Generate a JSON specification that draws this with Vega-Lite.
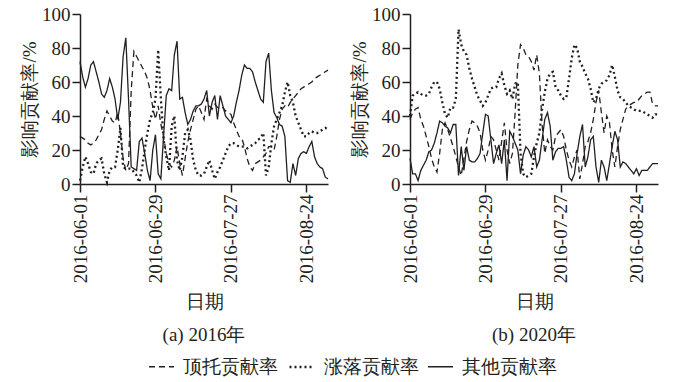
{
  "$schema": "https://vega.github.io/schema/vega-lite/v6.json",
  "autosize": {"type": "pad"},
  "padding": {"left": 20, "top": 5, "right": 5, "bottom": 5},
  "background": "white",
  "config": {
    "font": "Liberation Serif",
    "view": {"stroke": null},
    "style": {
      "guide-label": {"font": "Liberation Serif", "fontSize": 19, "fill": "#231f20"},
      "guide-title": {"font": "Liberation Serif", "fontSize": 19, "fill": "#231f20", "fontWeight": "normal"}
    },
    "axis": {
      "labelFont": "Liberation Serif",
      "titleFont": "Liberation Serif",
      "labelFontSize": 19,
      "titleFontSize": 19,
      "titleFontWeight": "normal",
      "labelColor": "#231f20",
      "titleColor": "#231f20",
      "domainColor": "#231f20",
      "tickColor": "#231f20",
      "domainWidth": 1.5,
      "tickWidth": 1.5,
      "tickSize": 8,
      "grid": false
    },
    "legend": {
      "labelFont": "Liberation Serif",
      "labelFontSize": 19,
      "labelColor": "#231f20",
      "symbolType": "stroke",
      "symbolSize": 625,
      "symbolStrokeColor": "#231f20",
      "columnPadding": 6,
      "labelOffset": 8
    },
    "title": {"font": "Liberation Serif", "fontSize": 19, "fontWeight": "normal", "color": "#231f20"}
  },
  "datasets": {
    "y2016": [
      {"d":"2016-06-01","顶托贡献率":28,"涨落贡献率":2,"其他贡献率":72},
      {"d":"2016-06-02","顶托贡献率":27,"涨落贡献率":10,"其他贡献率":63},
      {"d":"2016-06-03","顶托贡献率":26,"涨落贡献率":16,"其他贡献率":57},
      {"d":"2016-06-04","顶托贡献率":24,"涨落贡献率":12,"其他贡献率":62},
      {"d":"2016-06-05","顶托贡献率":23,"涨落贡献率":7,"其他贡献率":70},
      {"d":"2016-06-06","顶托贡献率":24,"涨落贡献率":6,"其他贡献率":72},
      {"d":"2016-06-07","顶托贡献率":26,"涨落贡献率":12,"其他贡献率":66},
      {"d":"2016-06-08","顶托贡献率":29,"涨落贡献率":14,"其他贡献率":60},
      {"d":"2016-06-09","顶托贡献率":32,"涨落贡献率":15,"其他贡献率":53},
      {"d":"2016-06-10","顶托贡献率":38,"涨落贡献率":6,"其他贡献率":51},
      {"d":"2016-06-11","顶托贡献率":43,"涨落贡献率":1,"其他贡献率":55},
      {"d":"2016-06-12","顶托贡献率":40,"涨落贡献率":8,"其他贡献率":62},
      {"d":"2016-06-13","顶托贡献率":37,"涨落贡献率":10,"其他贡献率":57},
      {"d":"2016-06-14","顶托贡献率":36,"涨落贡献率":10,"其他贡献率":50},
      {"d":"2016-06-15","顶托贡献率":42,"涨落贡献率":20,"其他贡献率":38},
      {"d":"2016-06-16","顶托贡献率":30,"涨落贡献率":33,"其他贡献率":48},
      {"d":"2016-06-17","顶托贡献率":15,"涨落贡献率":10,"其他贡献率":75},
      {"d":"2016-06-18","顶托贡献率":8,"涨落贡献率":9,"其他贡献率":86},
      {"d":"2016-06-19","顶托贡献率":12,"涨落贡献率":9,"其他贡献率":50},
      {"d":"2016-06-20","顶托贡献率":55,"涨落贡献率":9,"其他贡献率":10},
      {"d":"2016-06-21","顶托贡献率":78,"涨落贡献率":7,"其他贡献率":9},
      {"d":"2016-06-22","顶托贡献率":75,"涨落贡献率":5,"其他贡献率":8},
      {"d":"2016-06-23","顶托贡献率":72,"涨落贡献率":1,"其他贡献率":25},
      {"d":"2016-06-24","顶托贡献率":69,"涨落贡献率":9,"其他贡献率":27},
      {"d":"2016-06-25","顶托贡献率":66,"涨落贡献率":20,"其他贡献率":18},
      {"d":"2016-06-26","顶托贡献率":62,"涨落贡献率":30,"其他贡献率":8},
      {"d":"2016-06-27","顶托贡献率":55,"涨落贡献率":38,"其他贡献率":2},
      {"d":"2016-06-28","顶托贡献率":45,"涨落贡献率":42,"其他贡献率":20},
      {"d":"2016-06-29","顶托贡献率":38,"涨落贡献率":50,"其他贡献率":29},
      {"d":"2016-06-30","顶托贡献率":46,"涨落贡献率":79,"其他贡献率":6},
      {"d":"2016-07-01","顶托贡献率":35,"涨落贡献率":50,"其他贡献率":3},
      {"d":"2016-07-02","顶托贡献率":28,"涨落贡献率":26,"其他贡献率":28},
      {"d":"2016-07-03","顶托贡献率":18,"涨落贡献率":16,"其他贡献率":52},
      {"d":"2016-07-04","顶托贡献率":12,"涨落贡献率":8,"其他贡献率":56},
      {"d":"2016-07-05","顶托贡献率":10,"涨落贡献率":34,"其他贡献率":55},
      {"d":"2016-07-06","顶托贡献率":14,"涨落贡献率":40,"其他贡献率":76},
      {"d":"2016-07-07","顶托贡献率":22,"涨落贡献率":14,"其他贡献率":84},
      {"d":"2016-07-08","顶托贡献率":12,"涨落贡献率":8,"其他贡献率":50},
      {"d":"2016-07-09","顶托贡献率":5,"涨落贡献率":16,"其他贡献率":51},
      {"d":"2016-07-10","顶托贡献率":15,"涨落贡献率":30,"其他贡献率":42},
      {"d":"2016-07-11","顶托贡献率":25,"涨落贡献率":32,"其他贡献率":35},
      {"d":"2016-07-12","顶托贡献率":32,"涨落贡献率":26,"其他贡献率":38},
      {"d":"2016-07-13","顶托贡献率":38,"涨落贡献率":14,"其他贡献率":43},
      {"d":"2016-07-14","顶托贡献率":44,"涨落贡献率":8,"其他贡献率":46},
      {"d":"2016-07-15","顶托贡献率":46,"涨落贡献率":5,"其他贡献率":46},
      {"d":"2016-07-16","顶托贡献率":42,"涨落贡献率":5,"其他贡献率":47},
      {"d":"2016-07-17","顶托贡献率":38,"涨落贡献率":6,"其他贡献率":50},
      {"d":"2016-07-18","顶托贡献率":50,"涨落贡献率":10,"其他贡献率":55},
      {"d":"2016-07-19","顶托贡献率":46,"涨落贡献率":14,"其他贡献率":40},
      {"d":"2016-07-20","顶托贡献率":44,"涨落贡献率":8,"其他贡献率":48},
      {"d":"2016-07-21","顶托贡献率":47,"涨落贡献率":3,"其他贡献率":52},
      {"d":"2016-07-22","顶托贡献率":45,"涨落贡献率":7,"其他贡献率":38},
      {"d":"2016-07-23","顶托贡献率":44,"涨落贡献率":10,"其他贡献率":52},
      {"d":"2016-07-24","顶托贡献率":45,"涨落贡献率":14,"其他贡献率":46},
      {"d":"2016-07-25","顶托贡献率":43,"涨落贡献率":18,"其他贡献率":40},
      {"d":"2016-07-26","顶托贡献率":42,"涨落贡献率":22,"其他贡献率":38},
      {"d":"2016-07-27","顶托贡献率":41,"涨落贡献率":24,"其他贡献率":36},
      {"d":"2016-07-28","顶托贡献率":36,"涨落贡献率":24,"其他贡献率":40},
      {"d":"2016-07-29","顶托贡献率":32,"涨落贡献率":23,"其他贡献率":48},
      {"d":"2016-07-30","顶托贡献率":28,"涨落贡献率":22,"其他贡献率":55},
      {"d":"2016-07-31","顶托贡献率":27,"涨落贡献率":22,"其他贡献率":64},
      {"d":"2016-08-01","顶托贡献率":22,"涨落贡献率":22,"其他贡献率":70},
      {"d":"2016-08-02","顶托贡献率":15,"涨落贡献率":21,"其他贡献率":68},
      {"d":"2016-08-03","顶托贡献率":10,"涨落贡献率":22,"其他贡献率":68},
      {"d":"2016-08-04","顶托贡献率":8,"涨落贡献率":23,"其他贡献率":66},
      {"d":"2016-08-05","顶托贡献率":12,"涨落贡献率":24,"其他贡献率":60},
      {"d":"2016-08-06","顶托贡献率":13,"涨落贡献率":26,"其他贡献率":55},
      {"d":"2016-08-07","顶托贡献率":14,"涨落贡献率":27,"其他贡献率":50},
      {"d":"2016-08-08","顶托贡献率":16,"涨落贡献率":30,"其他贡献率":48},
      {"d":"2016-08-09","顶托贡献率":18,"涨落贡献率":5,"其他贡献率":72},
      {"d":"2016-08-10","顶托贡献率":22,"涨落贡献率":10,"其他贡献率":77},
      {"d":"2016-08-11","顶托贡献率":22,"涨落贡献率":24,"其他贡献率":55},
      {"d":"2016-08-12","顶托贡献率":20,"涨落贡献率":34,"其他贡献率":42},
      {"d":"2016-08-13","顶托贡献率":28,"涨落贡献率":38,"其他贡献率":39},
      {"d":"2016-08-14","顶托贡献率":38,"涨落贡献率":42,"其他贡献率":35},
      {"d":"2016-08-15","顶托贡献率":44,"涨落贡献率":46,"其他贡献率":34},
      {"d":"2016-08-16","顶托贡献率":46,"涨落贡献率":54,"其他贡献率":28},
      {"d":"2016-08-17","顶托贡献率":45,"涨落贡献率":60,"其他贡献率":2},
      {"d":"2016-08-18","顶托贡献率":48,"涨落贡献率":52,"其他贡献率":1},
      {"d":"2016-08-19","顶托贡献率":50,"涨落贡献率":48,"其他贡献率":12},
      {"d":"2016-08-20","顶托贡献率":52,"涨落贡献率":40,"其他贡献率":5},
      {"d":"2016-08-21","顶托贡献率":54,"涨落贡献率":36,"其他贡献率":15},
      {"d":"2016-08-22","顶托贡献率":56,"涨落贡献率":32,"其他贡献率":18},
      {"d":"2016-08-23","顶托贡献率":57,"涨落贡献率":28,"其他贡献率":19},
      {"d":"2016-08-24","顶托贡献率":58,"涨落贡献率":28,"其他贡献率":18},
      {"d":"2016-08-25","顶托贡献率":59,"涨落贡献率":30,"其他贡献率":22},
      {"d":"2016-08-26","顶托贡献率":60,"涨落贡献率":31,"其他贡献率":25},
      {"d":"2016-08-27","顶托贡献率":62,"涨落贡献率":30,"其他贡献率":16},
      {"d":"2016-08-28","顶托贡献率":63,"涨落贡献率":30,"其他贡献率":12},
      {"d":"2016-08-29","顶托贡献率":64,"涨落贡献率":31,"其他贡献率":10},
      {"d":"2016-08-30","顶托贡献率":65,"涨落贡献率":32,"其他贡献率":9},
      {"d":"2016-08-31","顶托贡献率":66,"涨落贡献率":33,"其他贡献率":4},
      {"d":"2016-09-01","顶托贡献率":67,"涨落贡献率":32,"其他贡献率":3}
    ],
    "y2020": [
      {"d":"2016-06-01","顶托贡献率":38,"涨落贡献率":40,"其他贡献率":15},
      {"d":"2016-06-02","顶托贡献率":42,"涨落贡献率":52,"其他贡献率":6},
      {"d":"2016-06-03","顶托贡献率":44,"涨落贡献率":53,"其他贡献率":6},
      {"d":"2016-06-04","顶托贡献率":45,"涨落贡献率":54,"其他贡献率":2},
      {"d":"2016-06-05","顶托贡献率":38,"涨落贡献率":53,"其他贡献率":8},
      {"d":"2016-06-06","顶托贡献率":34,"涨落贡献率":52,"其他贡献率":11},
      {"d":"2016-06-07","顶托贡献率":28,"涨落贡献率":52,"其他贡献率":14},
      {"d":"2016-06-08","顶托贡献率":22,"涨落贡献率":53,"其他贡献率":19},
      {"d":"2016-06-09","顶托贡献率":15,"涨落贡献率":57,"其他贡献率":20},
      {"d":"2016-06-10","顶托贡献率":10,"涨落贡献率":60,"其他贡献率":24},
      {"d":"2016-06-11","顶托贡献率":7,"涨落贡献率":60,"其他贡献率":30},
      {"d":"2016-06-12","顶托贡献率":18,"涨落贡献率":56,"其他贡献率":37},
      {"d":"2016-06-13","顶托贡献率":32,"涨落贡献率":48,"其他贡献率":36},
      {"d":"2016-06-14","顶托贡献率":36,"涨落贡献率":41,"其他贡献率":34},
      {"d":"2016-06-15","顶托贡献率":32,"涨落贡献率":39,"其他贡献率":33},
      {"d":"2016-06-16","顶托贡献率":27,"涨落贡献率":45,"其他贡献率":30},
      {"d":"2016-06-17","顶托贡献率":22,"涨落贡献率":45,"其他贡献率":35},
      {"d":"2016-06-18","顶托贡献率":16,"涨落贡献率":50,"其他贡献率":35},
      {"d":"2016-06-19","顶托贡献率":10,"涨落贡献率":91,"其他贡献率":5},
      {"d":"2016-06-20","顶托贡献率":5,"涨落贡献率":82,"其他贡献率":22},
      {"d":"2016-06-21","顶托贡献率":15,"涨落贡献率":78,"其他贡献率":8},
      {"d":"2016-06-22","顶托贡献率":25,"涨落贡献率":76,"其他贡献率":22},
      {"d":"2016-06-23","顶托贡献率":32,"涨落贡献率":68,"其他贡献率":14},
      {"d":"2016-06-24","顶托贡献率":37,"涨落贡献率":62,"其他贡献率":13},
      {"d":"2016-06-25","顶托贡献率":36,"涨落贡献率":57,"其他贡献率":13},
      {"d":"2016-06-26","顶托贡献率":34,"涨落贡献率":52,"其他贡献率":15},
      {"d":"2016-06-27","顶托贡献率":30,"涨落贡献率":49,"其他贡献率":18},
      {"d":"2016-06-28","顶托贡献率":20,"涨落贡献率":46,"其他贡献率":30},
      {"d":"2016-06-29","顶托贡献率":14,"涨落贡献率":48,"其他贡献率":41},
      {"d":"2016-06-30","顶托贡献率":20,"涨落贡献率":52,"其他贡献率":40},
      {"d":"2016-07-01","顶托贡献率":28,"涨落贡献率":56,"其他贡献率":26},
      {"d":"2016-07-02","顶托贡献率":26,"涨落贡献率":57,"其他贡献率":12},
      {"d":"2016-07-03","顶托贡献率":20,"涨落贡献率":57,"其他贡献率":18},
      {"d":"2016-07-04","顶托贡献率":14,"涨落贡献率":62,"其他贡献率":23},
      {"d":"2016-07-05","顶托贡献率":25,"涨落贡献率":65,"其他贡献率":12},
      {"d":"2016-07-06","顶托贡献率":36,"涨落贡献率":58,"其他贡献率":26},
      {"d":"2016-07-07","顶托贡献率":20,"涨落贡献率":53,"其他贡献率":2},
      {"d":"2016-07-08","顶托贡献率":12,"涨落贡献率":55,"其他贡献率":31},
      {"d":"2016-07-09","顶托贡献率":18,"涨落贡献率":50,"其他贡献率":28},
      {"d":"2016-07-10","顶托贡献率":42,"涨落贡献率":59,"其他贡献率":24},
      {"d":"2016-07-11","顶托贡献率":70,"涨落贡献率":60,"其他贡献率":20},
      {"d":"2016-07-12","顶托贡献率":82,"涨落贡献率":18,"其他贡献率":6},
      {"d":"2016-07-13","顶托贡献率":80,"涨落贡献率":6,"其他贡献率":17},
      {"d":"2016-07-14","顶托贡献率":76,"涨落贡献率":4,"其他贡献率":22},
      {"d":"2016-07-15","顶托贡献率":75,"涨落贡献率":5,"其他贡献率":20},
      {"d":"2016-07-16","顶托贡献率":72,"涨落贡献率":6,"其他贡献率":16},
      {"d":"2016-07-17","顶托贡献率":67,"涨落贡献率":16,"其他贡献率":22},
      {"d":"2016-07-18","顶托贡献率":76,"涨落贡献率":24,"其他贡献率":10},
      {"d":"2016-07-19","顶托贡献率":65,"涨落贡献率":30,"其他贡献率":14},
      {"d":"2016-07-20","顶托贡献率":35,"涨落贡献率":44,"其他贡献率":26},
      {"d":"2016-07-21","顶托贡献率":18,"涨落贡献率":54,"其他贡献率":38},
      {"d":"2016-07-22","顶托贡献率":26,"涨落贡献率":62,"其他贡献率":42},
      {"d":"2016-07-23","顶托贡献率":22,"涨落贡献率":65,"其他贡献率":34},
      {"d":"2016-07-24","顶托贡献率":20,"涨落贡献率":66,"其他贡献率":14},
      {"d":"2016-07-25","顶托贡献率":28,"涨落贡献率":57,"其他贡献率":19},
      {"d":"2016-07-26","顶托贡献率":30,"涨落贡献率":55,"其他贡献率":21},
      {"d":"2016-07-27","顶托贡献率":32,"涨落贡献率":52,"其他贡献率":21},
      {"d":"2016-07-28","顶托贡献率":28,"涨落贡献率":50,"其他贡献率":22},
      {"d":"2016-07-29","顶托贡献率":20,"涨落贡献率":51,"其他贡献率":14},
      {"d":"2016-07-30","顶托贡献率":14,"涨落贡献率":62,"其他贡献率":4},
      {"d":"2016-07-31","顶托贡献率":10,"涨落贡献率":74,"其他贡献率":2},
      {"d":"2016-08-01","顶托贡献率":16,"涨落贡献率":82,"其他贡献率":6},
      {"d":"2016-08-02","顶托贡献率":20,"涨落贡献率":80,"其他贡献率":18},
      {"d":"2016-08-03","顶托贡献率":3,"涨落贡献率":72,"其他贡献率":28},
      {"d":"2016-08-04","顶托贡献率":12,"涨落贡献率":69,"其他贡献率":35},
      {"d":"2016-08-05","顶托贡献率":22,"涨落贡献率":65,"其他贡献率":10},
      {"d":"2016-08-06","顶托贡献率":25,"涨落贡献率":62,"其他贡献率":16},
      {"d":"2016-08-07","顶托贡献率":30,"涨落贡献率":56,"其他贡献率":26},
      {"d":"2016-08-08","顶托贡献率":38,"涨落贡献率":48,"其他贡献率":28},
      {"d":"2016-08-09","顶托贡献率":48,"涨落贡献率":50,"其他贡献率":10},
      {"d":"2016-08-10","顶托贡献率":55,"涨落贡献率":56,"其他贡献率":1},
      {"d":"2016-08-11","顶托贡献率":42,"涨落贡献率":59,"其他贡献率":14},
      {"d":"2016-08-12","顶托贡献率":30,"涨落贡献率":60,"其他贡献率":10},
      {"d":"2016-08-13","顶托贡献率":40,"涨落贡献率":61,"其他贡献率":2},
      {"d":"2016-08-14","顶托贡献率":36,"涨落贡献率":64,"其他贡献率":12},
      {"d":"2016-08-15","顶托贡献率":20,"涨落贡献率":70,"其他贡献率":22},
      {"d":"2016-08-16","顶托贡献率":10,"涨落贡献率":63,"其他贡献率":31},
      {"d":"2016-08-17","顶托贡献率":22,"涨落贡献率":55,"其他贡献率":26},
      {"d":"2016-08-18","顶托贡献率":32,"涨落贡献率":51,"其他贡献率":10},
      {"d":"2016-08-19","顶托贡献率":38,"涨落贡献率":50,"其他贡献率":13},
      {"d":"2016-08-20","顶托贡献率":44,"涨落贡献率":48,"其他贡献率":12},
      {"d":"2016-08-21","顶托贡献率":46,"涨落贡献率":46,"其他贡献率":10},
      {"d":"2016-08-22","顶托贡献率":47,"涨落贡献率":45,"其他贡献率":8},
      {"d":"2016-08-23","顶托贡献率":48,"涨落贡献率":44,"其他贡献率":6},
      {"d":"2016-08-24","顶托贡献率":48,"涨落贡献率":43,"其他贡献率":9},
      {"d":"2016-08-25","顶托贡献率":50,"涨落贡献率":43,"其他贡献率":5},
      {"d":"2016-08-26","顶托贡献率":52,"涨落贡献率":43,"其他贡献率":8},
      {"d":"2016-08-27","顶托贡献率":53,"涨落贡献率":42,"其他贡献率":8},
      {"d":"2016-08-28","顶托贡献率":54,"涨落贡献率":41,"其他贡献率":8},
      {"d":"2016-08-29","顶托贡献率":54,"涨落贡献率":40,"其他贡献率":10},
      {"d":"2016-08-30","顶托贡献率":47,"涨落贡献率":39,"其他贡献率":12},
      {"d":"2016-08-31","顶托贡献率":46,"涨落贡献率":41,"其他贡献率":12},
      {"d":"2016-09-01","顶托贡献率":46,"涨落贡献率":41,"其他贡献率":12}
    ]
  },
  "spacing": 17,
  "resolve": {"scale": {"strokeDash": "shared", "strokeWidth": "shared"}},
  "hconcat": [
    {
      "width": 248,
      "height": 170,
      "data": {"name": "y2016"},
      "transform": [{"fold": ["顶托贡献率", "涨落贡献率", "其他贡献率"], "as": ["s", "v"]}],
      "title": {"text": "(a) 2016年", "orient": "bottom", "offset": 14},
      "mark": {"type": "line", "color": "#231f20", "strokeJoin": "miter"},
      "encoding": {
        "x": {
          "field": "d", "type": "temporal",
          "scale": {"type": "utc", "nice": false, "domain": [{"year": 2016, "month": 6, "date": 1, "utc": true}, {"year": 2016, "month": 9, "date": 1, "utc": true}]},
          "axis": {
            "values": [{"year": 2016, "month": 6, "date": 1, "utc": true}, {"year": 2016, "month": 6, "date": 29, "utc": true}, {"year": 2016, "month": 7, "date": 27, "utc": true}, {"year": 2016, "month": 8, "date": 24, "utc": true}],
            "labelExpr": "utcFormat(datum.value, '%Y-%m-%d')", "labelAngle": -90, "labelPadding": 2, "title": "日期", "titlePadding": 10,
            "labelFont": "Liberation Serif", "labelFontSize": 19, "titleFont": "Liberation Serif", "titleFontSize": 19
          }
        },
        "y": {
          "field": "v", "type": "quantitative",
          "scale": {"domain": [0, 100], "nice": false},
          "axis": {"values": [0, 20, 40, 60, 80, 100], "title": "影响贡献率/%", "labelPadding": 2, "titlePadding": 2,
            "labelFont": "Liberation Serif", "labelFontSize": 19, "titleFont": "Liberation Serif", "titleFontSize": 19}
        },
        "strokeDash": {
          "field": "s", "type": "nominal",
          "scale": {"type": "ordinal", "domain": ["顶托贡献率", "涨落贡献率", "其他贡献率"], "range": [[6, 4], [2, 3], [1, 0]]},
          "legend": {"title": null, "orient": "none", "direction": "horizontal", "legendX": 68, "legendY": 339, "labelFont": "Liberation Serif"}
        },
        "strokeWidth": {
          "field": "s", "type": "nominal",
          "scale": {"type": "ordinal", "domain": ["顶托贡献率", "涨落贡献率", "其他贡献率"], "range": [1.3, 2.3, 1.3]},
          "legend": {"title": null, "orient": "none", "direction": "horizontal", "legendX": 68, "legendY": 339, "labelFont": "Liberation Serif"}
        }
      }
    },
    {
      "width": 248,
      "height": 170,
      "data": {"name": "y2020"},
      "transform": [{"fold": ["顶托贡献率", "涨落贡献率", "其他贡献率"], "as": ["s", "v"]}],
      "title": {"text": "(b) 2020年", "orient": "bottom", "offset": 14},
      "mark": {"type": "line", "color": "#231f20", "strokeJoin": "miter"},
      "encoding": {
        "x": {
          "field": "d", "type": "temporal",
          "scale": {"type": "utc", "nice": false, "domain": [{"year": 2016, "month": 6, "date": 1, "utc": true}, {"year": 2016, "month": 9, "date": 1, "utc": true}]},
          "axis": {
            "values": [{"year": 2016, "month": 6, "date": 1, "utc": true}, {"year": 2016, "month": 6, "date": 29, "utc": true}, {"year": 2016, "month": 7, "date": 27, "utc": true}, {"year": 2016, "month": 8, "date": 24, "utc": true}],
            "labelExpr": "utcFormat(datum.value, '%Y-%m-%d')", "labelAngle": -90, "labelPadding": 2, "title": "日期", "titlePadding": 10,
            "labelFont": "Liberation Serif", "labelFontSize": 19, "titleFont": "Liberation Serif", "titleFontSize": 19
          }
        },
        "y": {
          "field": "v", "type": "quantitative",
          "scale": {"domain": [0, 100], "nice": false},
          "axis": {"values": [0, 20, 40, 60, 80, 100], "title": "影响贡献率/%", "labelPadding": 2, "titlePadding": 2,
            "labelFont": "Liberation Serif", "labelFontSize": 19, "titleFont": "Liberation Serif", "titleFontSize": 19}
        },
        "strokeDash": {
          "field": "s", "type": "nominal",
          "scale": {"type": "ordinal", "domain": ["顶托贡献率", "涨落贡献率", "其他贡献率"], "range": [[6, 4], [2, 3], [1, 0]]},
          "legend": {"title": null, "orient": "none", "direction": "horizontal", "legendX": 68, "legendY": 339, "labelFont": "Liberation Serif"}
        },
        "strokeWidth": {
          "field": "s", "type": "nominal",
          "scale": {"type": "ordinal", "domain": ["顶托贡献率", "涨落贡献率", "其他贡献率"], "range": [1.3, 2.3, 1.3]},
          "legend": {"title": null, "orient": "none", "direction": "horizontal", "legendX": 68, "legendY": 339, "labelFont": "Liberation Serif"}
        }
      }
    }
  ]
}
